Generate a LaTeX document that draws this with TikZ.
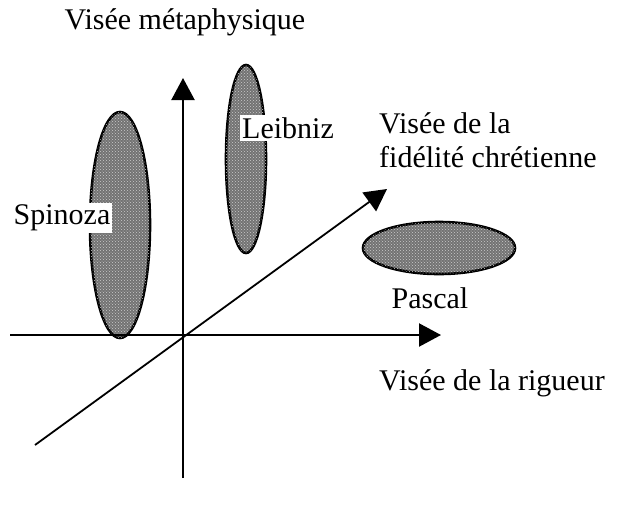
\documentclass[tikz,border=0pt]{standalone}
\usepackage{fontspec}
\setmainfont{Liberation Serif}
\usetikzlibrary{arrows.meta,shapes.geometric,patterns}

\begin{document}
\begin{tikzpicture}[x=1pt,y=1pt,yscale=-1,
    blob/.style={ellipse,draw,line width=2.6pt,fill=black!55,inner sep=0pt,
      postaction={pattern=crosshatch dots,pattern color=white!80!black}},
    axe/.style={line width=2.2pt,-{Triangle[length=22pt,width=23pt]}},
    lbl/.style={inner sep=2pt,font=\fontsize{30}{34}\selectfont}]
  \useasboundingbox (0,0) rectangle (617,507);
  % les trois visees
  \node[blob,minimum width=60,minimum height=226] (spinozaBlob) at (120,225) {};
  \node[blob,minimum width=40,minimum height=188] (leibnizBlob) at (246,159) {};
  \node[blob,minimum width=152,minimum height=52] (pascalBlob) at (439,248) {};
  % axes
  \coordinate (o) at (183,335);
  \coordinate (xa) at (10,335);
  \coordinate (xb) at (441,335);
  \coordinate (ya) at (183,478);
  \coordinate (yb) at (183,78);
  \coordinate (za) at (35,445);
  \coordinate (zb) at (387,189);
  \draw[axe] (xa) -- (xb);
  \draw[axe] (ya) -- (yb);
  \draw[axe,line width=1.8pt] (za) -- (zb);
  % etiquettes
  \node[lbl] (meta) at (185,22) {Visée métaphysique};
  \node[lbl,anchor=west,align=left] (fidel) at (377,140) {Visée de la\\fidélité chrétienne};
  \node[lbl,anchor=west] (rigueur) at (377,383) {Visée de la rigueur};
  \node[lbl,fill=white] (spinoza) at (62,218) {Spinoza};
  \node[lbl,fill=white,anchor=west] (leibniz) at (240,128) {Leibniz};
  \node[lbl] (pascal) at (430,298) {Pascal};
\end{tikzpicture}
\end{document}
